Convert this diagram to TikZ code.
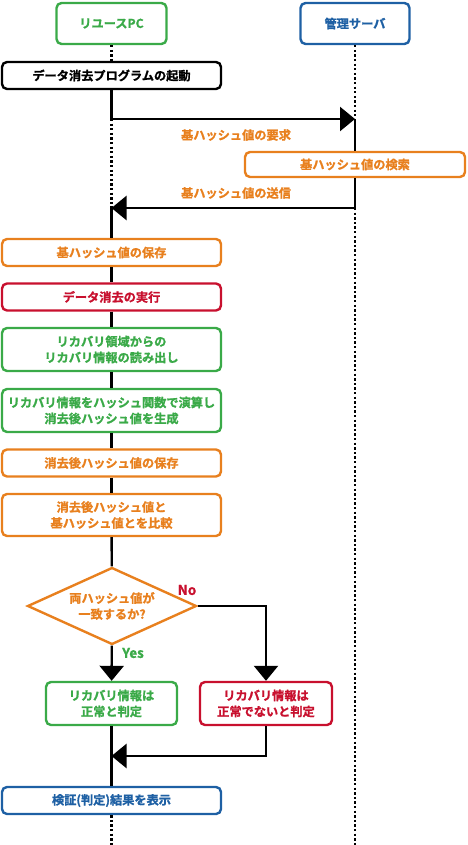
\documentclass[tikz,border=0pt]{standalone}
\usepackage{fontspec}
\newfontfamily\jpfont{Noto Sans CJK JP}[BoldFont={* Bold}, BoldFeatures={FakeBold=1.2}]
\usepackage{tikz}
\usetikzlibrary{arrows.meta, shapes.geometric, positioning}
\definecolor{pcgreen}{RGB}{58, 170, 72}
\definecolor{srvblue}{RGB}{30, 96, 164}
\definecolor{hashorange}{RGB}{232, 128, 30}
\definecolor{erasered}{RGB}{200, 16, 46}

\tikzset{
    box/.style={draw, fill=white, rounded corners=5pt, line width=2.4pt,
        align=center, inner sep=0pt, font=\jpfont\bfseries\fontsize{12.2}{16}\selectfont},
    stepbox/.style={box, minimum width=219pt, minimum height=27pt},
    lbl/.style={font=\jpfont\bfseries\fontsize{12.2}{16}\selectfont},
    life/.style={line width=2.4pt},
    lifedot/.style={line width=2.3pt, dash pattern=on 2.3pt off 2.3pt},
    msg/.style={line width=2.4pt, -{Triangle[length=15pt, width=24pt]}},
}

\begin{document}
\begin{tikzpicture}[x=1pt, y=-1pt]
    \useasboundingbox (0,0) rectangle (467,845);

    % lanes
    \node[box, draw=pcgreen, text=pcgreen, minimum width=110pt, minimum height=41pt] 
        (pc) at (111.5, 23.5) {リユースPC};
    \node[box, draw=srvblue, text=srvblue, minimum width=109pt, minimum height=41pt] 
        (srv) at (355, 23.5) {管理サーバ};

    % steps
    \node[stepbox, draw=black, text=black] (start) at (111.5, 75.5) {データ消去プログラムの起動};
    \node[stepbox, draw=hashorange, text=hashorange, minimum width=220pt, minimum height=25pt] 
        (search) at (355, 164.5) {基ハッシュ値の検索};
    \node[stepbox, draw=hashorange, text=hashorange] (save) at (111.5, 252.5) {基ハッシュ値の保存};
    \node[stepbox, draw=erasered, text=erasered] (erase) at (111.5, 297) {データ消去の実行};
    \node[stepbox, draw=pcgreen, text=pcgreen, minimum height=43pt] 
        (read) at (111.5, 349.5) {リカバリ領域からの\\リカバリ情報の読み出し};
    \node[stepbox, draw=pcgreen, text=pcgreen, minimum height=43pt] 
        (calc) at (111.5, 410.5) {リカバリ情報をハッシュ関数で演算し\\消去後ハッシュ値を生成};
    \node[stepbox, draw=hashorange, text=hashorange] (saveafter) at (111.5, 463) {消去後ハッシュ値の保存};
    \node[stepbox, draw=hashorange, text=hashorange, minimum height=42pt] 
        (compare) at (111.5, 515) {消去後ハッシュ値と\\基ハッシュ値とを比較};
    \node[diamond, draw=hashorange, text=hashorange, line width=2.4pt, fill=white, aspect=2.2,
        inner sep=0pt, minimum width=169pt, minimum height=77pt, align=center,
        font=\jpfont\bfseries\fontsize{12.2}{16}\selectfont] 
        (match) at (112, 606) {両ハッシュ値が\\一致するか?};
    \node[box, draw=pcgreen, text=pcgreen, minimum width=131pt, minimum height=43pt] 
        (ok) at (111.5, 703.5) {リカバリ情報は\\正常と判定};
    \node[box, draw=erasered, text=erasered, minimum width=132pt, minimum height=43pt] 
        (ng) at (266, 703.5) {リカバリ情報は\\正常でないと判定};
    \node[stepbox, draw=srvblue, text=srvblue] (result) at (111.5, 800.5) {検証(判定)結果を表示};

    % message labels
    \node[lbl, text=hashorange] (reqlbl) at (236, 135) {基ハッシュ値の要求};
    \node[lbl, text=hashorange] (sendlbl) at (236, 193) {基ハッシュ値の送信};
    \node[lbl, text=erasered, font=\jpfont\bfseries\fontsize{13.5}{16}\selectfont] (nolbl) at (187, 590) {No};
    \node[lbl, text=pcgreen, font=\jpfont\bfseries\fontsize{13.5}{16}\selectfont] (yeslbl) at (133, 653) {Yes};

    \coordinate (pcreq) at (111.5, 119);
    \coordinate (srvreq) at (355, 119);
    \coordinate (srvsend) at (355, 208);
    \coordinate (pcsend) at (111.5, 208);
    \coordinate (merge) at (111.5, 756);
    \coordinate (pcend) at (111.5, 845);
    \coordinate (srvend) at (355, 845);

    % lifelines
    \draw[lifedot] (pc) -- (start);
    \draw[lifedot] (srv) -- (srvreq);
    \draw[life] (start) -- (pcreq);
    \draw[lifedot] (pcreq) -- (pcsend);
    \draw[life] (srvreq) -- (search);
    \draw[life] (search) -- (srvsend);
    \draw[lifedot] (srvsend) -- (srvend);
    \draw[life] (pcsend) -- (save);
    \draw[life] (save) -- (erase);
    \draw[life] (erase) -- (read);
    \draw[life] (read) -- (calc);
    \draw[life] (calc) -- (saveafter);
    \draw[life] (saveafter) -- (compare);
    \draw[life] (compare) -- (match);
    \draw[life] (ok) -- (result);
    \draw[lifedot] (result) -- (pcend);

    % messages
    \draw[msg] (pcreq) -- (srvreq);
    \draw[msg] (srvsend) -- (pcsend);
    \draw[msg] (match) -- (ok);
    \draw[msg] (match.east) -| (ng);
    \draw[msg] (ng) |- (merge);
\end{tikzpicture}
\end{document}
